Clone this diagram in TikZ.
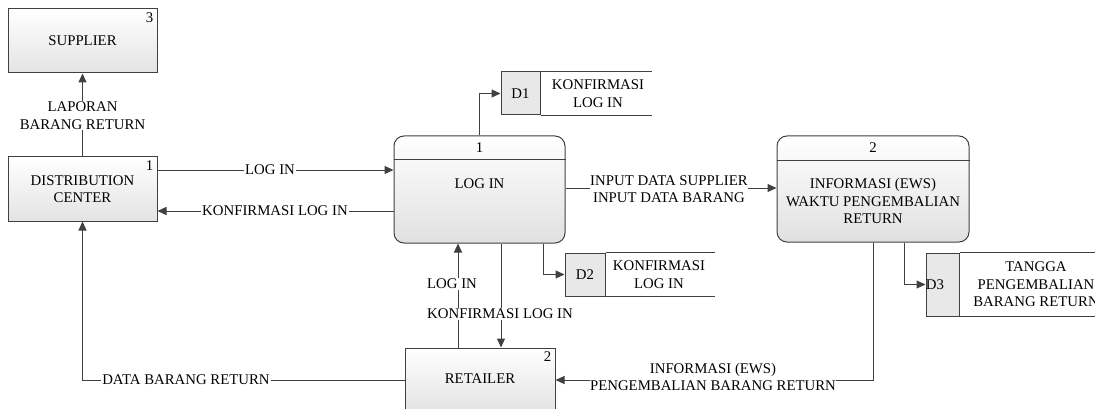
\documentclass[tikz,border=0pt]{standalone}
\usepackage{fontspec}
\setmainfont{Liberation Serif}
\usetikzlibrary{arrows.meta}
\definecolor{linec}{HTML}{404040}
\begin{document}
\begin{tikzpicture}[x=1pt,y=-1pt,
  every node/.style={font=\fontsize{14.8}{17.5}\selectfont, text=black},
  ent/.style={draw=linec, line width=1pt, top color=white, bottom color=black!11, minimum width=149pt, minimum height=64pt, inner sep=0pt, align=center},
  proc/.style={draw=linec, line width=1pt, rounded corners=10pt, top color=white, bottom color=black!12, inner sep=0pt},
  dsid/.style={draw=linec, line width=1pt, fill=black!9, inner sep=0pt},
  dsline/.style={draw=linec, line width=1pt},
  num/.style={inner sep=0pt, anchor=north east},
  lbl/.style={fill=white, inner sep=1pt, align=center},
  txt/.style={inner sep=0pt, align=center},
  flow/.style={draw=linec, line width=1pt, -{Triangle[length=9pt,width=8pt]}},
  plain/.style={draw=linec, line width=1pt}
]
\useasboundingbox (0,0) rectangle (1095,409);

% external entities
\node[ent] (sup) at (82.5,41) {SUPPLIER};
\node[num] (supn) at ([xshift=-4pt,yshift=-4pt]sup.north east) {3};
\node[ent] (dc) at (82.5,189) {DISTRIBUTION\\CENTER};
\node[num] (dcn) at ([xshift=-4pt,yshift=-4pt]dc.north east) {1};
\node[ent, minimum width=150pt] (ret) at (480,380) {};
\node[txt] (rett) at (480,379) {RETAILER};
\node[num] (retn) at ([xshift=-4pt,yshift=-4pt]ret.north east) {2};

% processes
\node[proc, minimum width=171pt, minimum height=107pt] (p1) at (479.5,189.5) {};
\draw[plain] (p1.west |- 0,160) -- (p1.east |- 0,160);
\node[txt] (p1n) at (479.5,148) {1};
\node[txt] (p1t) at (479.5,184) {LOG IN};

\node[proc, minimum width=192pt, minimum height=106pt] (p2) at (873,189) {};
\draw[plain] (p2.west |- 0,161) -- (p2.east |- 0,161);
\node[txt] (p2n) at (873,148) {2};
\node[txt] (p2t) at (873,201) {INFORMASI (EWS)\\WAKTU PENGEMBALIAN\\RETURN};

% data stores
\node[dsid, minimum width=39pt, minimum height=43pt] (d1id) at (520.5,93.5) {};
\draw[dsline] (d1id.north east) -- ++(111,0);
\draw[dsline] (d1id.south east) -- ++(111,0);
\node[txt] (d1n) at (520.5,93.5) {D1};
\node[txt] (d1t) at (598,93.5) {KONFIRMASI\\LOG IN};

\node[dsid, minimum width=40pt, minimum height=43pt] (d2id) at (585,274.5) {};
\draw[dsline] (d2id.north east) -- ++(109,0);
\draw[dsline] (d2id.south east) -- ++(109,0);
\node[txt] (d2n) at (585,274.5) {D2};
\node[txt] (d2t) at (659,274.5) {KONFIRMASI\\LOG IN};

\node[dsid, minimum width=33pt, minimum height=63pt] (d3id) at (942.5,284.5) {};
\draw[dsline] (d3id.north east) -- ++(150,0);
\draw[dsline] (d3id.south east) -- ++(150,0);
\node[txt] (d3n) at (935,284.5) {D3};
\node[txt] (d3t) at (1036,284.5) {TANGGA\\PENGEMBALIAN\\BARANG RETURN};

% flows
\draw[flow] (dc.north) -- (sup.south);
\draw[flow] (dc.east |- 0,170) -- (p1.west |- 0,170);
\draw[flow] (p1.west |- 0,211) -- (dc.east |- 0,211);
\draw[flow] (p1.north) |- (d1id.west);
\draw[flow] ([xshift=63.5pt]p1.south) |- (d2id.west);
\draw[flow] (p1.east |- 0,188) -- (p2.west |- 0,188);
\draw[flow] ([xshift=31pt]p2.south) |- (d3id.west);
\draw[flow] (p2.south) |- (ret.east);
\draw[flow] (ret.west) -| (dc.south);
\draw[flow] ([xshift=-22pt]ret.north) -- ([xshift=-22pt]ret.north |- p1.south);
\draw[flow] ([xshift=21pt]ret.north |- p1.south) -- ([xshift=21pt]ret.north);

% flow labels
\node[lbl] (l1) at (82.5,115.5) {LAPORAN\\BARANG RETURN};
\node[lbl] (l2) at (270,170) {LOG IN};
\node[lbl] (l3) at (275,211) {KONFIRMASI LOG IN};
\node[lbl, inner sep=0pt] (l4) at (669,189) {INPUT DATA SUPPLIER\\INPUT DATA BARANG};
\node[lbl] (l5) at (186,380) {DATA BARANG RETURN};
\node[lbl, inner sep=0pt] (l6) at (713,377) {INFORMASI (EWS)\\PENGEMBALIAN BARANG RETURN};
\node[lbl] (l7) at (452,284) {LOG IN};
\node[lbl] (l8) at (500,314) {KONFIRMASI LOG IN};
\end{tikzpicture}
\end{document}
